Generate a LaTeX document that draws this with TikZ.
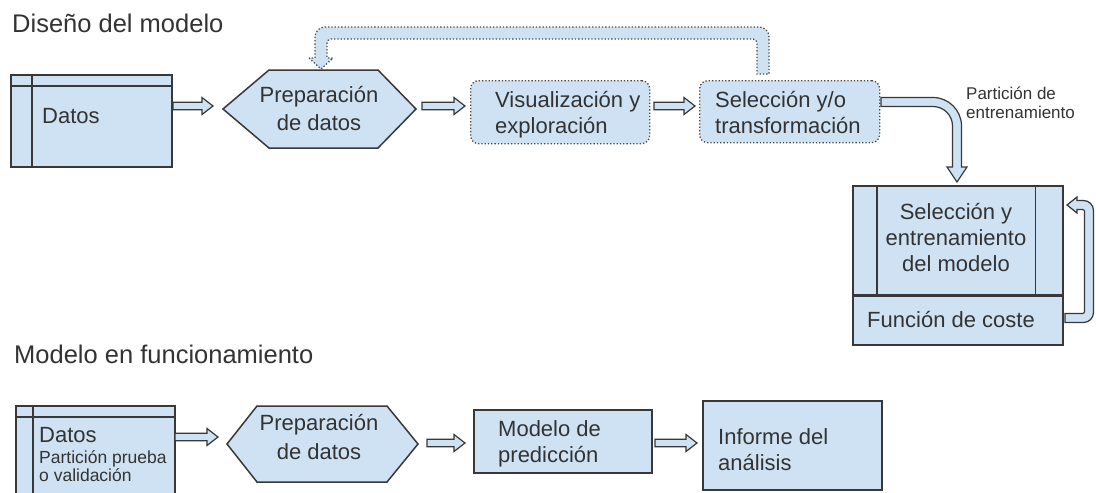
\documentclass[tikz,border=0pt]{standalone}
\usepackage{fontspec}
\setmainfont{Liberation Sans}
\usetikzlibrary{calc}
\definecolor{fillblue}{HTML}{CFE2F3}
\definecolor{edge}{HTML}{383838}
\definecolor{ink}{HTML}{333333}
\definecolor{dotc}{HTML}{4A4A4A}
\newcommand\harr[2]{\draw[barrow] let \p1=(#1), \p2=(#2) in
 (\x1,\y1+3.8pt) -- (\x2-11pt,\y1+3.8pt) -- (\x2-11pt,\y1+8.5pt) -- (\x2,\y1) --
 (\x2-11pt,\y1-8.5pt) -- (\x2-11pt,\y1-3.8pt) -- (\x1,\y1-3.8pt) -- cycle;}
\begin{document}
\begin{tikzpicture}[x=1pt,y=-1pt,
  box/.style={draw=edge, fill=fillblue, line width=1.5pt, inner sep=0pt, anchor=north west},
  innerline/.style={draw=edge, line width=1.5pt},
  hexa/.style={draw=edge, fill=fillblue, line width=1.5pt, line join=miter},
  dotbox/.style={draw=dotc, fill=fillblue, line width=1.3pt, dash pattern=on 1.3pt off 2pt,
    rounded corners=8pt, inner sep=0pt, anchor=north west},
  barrow/.style={draw=edge, fill=fillblue, line width=1.2pt, line join=miter},
  dotarrow/.style={draw=dotc, fill=fillblue, line width=1.3pt, dash pattern=on 1.3pt off 2pt},
  lbl/.style={text=ink, inner sep=0pt, font=\fontsize{22}{26}\selectfont},
  smalllbl/.style={text=ink, inner sep=0pt, font=\fontsize{17}{19.5}\selectfont},
  title/.style={text=ink, inner sep=0pt, font=\fontsize{25.5}{30}\selectfont, anchor=base west},
]
\useasboundingbox[fill=white] (0,0) rectangle (1096,493);

% titles
\node[title] (t1) at (12,32) {Diseño del modelo};
\node[title] (t2) at (14,363) {Modelo en funcionamiento};

% ---------- top row ----------
\node[box, minimum width=161, minimum height=92] (datos) at (10,74) {};
\draw[innerline] ([yshift=-12pt]datos.north west) -- ([yshift=-12pt]datos.north east);
\draw[innerline] ([xshift=22pt]datos.north west) -- ([xshift=22pt]datos.south west);
\node[lbl, anchor=base west] (datosT) at (42,123) {Datos};

\draw[hexa] (223,109) -- (269,70) -- (378,70) -- (416,109) -- (378,148) -- (269,148) -- cycle;
\node[lbl, anchor=base] (prep1) at (319,102)
  {\begin{tabular}[t]{@{}c@{}}Preparación\\[2pt]de datos\end{tabular}};

\node[dotbox, minimum width=179, minimum height=63] (vis) at (470,80) {};
\node[lbl, anchor=base west] (visT) at (495,107)
  {\begin{tabular}[t]{@{}l@{}}Visualización y\\exploración\end{tabular}};

\node[dotbox, minimum width=180, minimum height=62] (sel) at (699,80) {};
\node[lbl, anchor=base west] (selT) at (715,107)
  {\begin{tabular}[t]{@{}l@{}}Selección y/o\\transformación\end{tabular}};

\node[smalllbl, anchor=base west] (part) at (966,99)
  {\begin{tabular}[t]{@{}l@{}}Partición de\\entrenamiento\end{tabular}};

% model box
\node[box, minimum width=210, minimum height=109] (model) at (852,185) {};
\node[box, minimum width=210, minimum height=50] (coste) at (852,294) {};
\draw[innerline] ([xshift=25pt]model.north west) -- ([xshift=25pt]model.south west);
\draw[innerline] ([xshift=-28pt]model.north east) -- ([xshift=-28pt]model.south east);
\draw[draw=edge, line width=2.4pt] (model.south west) -- (model.south east);
\node[lbl, anchor=base] (modelT) at (956,219)
  {\begin{tabular}[t]{@{}c@{}}Selección y\\entrenamiento\\del modelo\end{tabular}};
\node[lbl, anchor=base] (costeT) at (951,327) {Función de coste};

% straight arrows top
\coordinate (a1s) at (173,106); \coordinate (a1e) at (213,106);
\coordinate (a2s) at (422,106); \coordinate (a2e) at (465,106);
\coordinate (a3s) at (654,106); \coordinate (a3e) at (695,106);
\harr{a1s}{a1e}
\harr{a2s}{a2e}
\harr{a3s}{a3e}

% feedback dotted arrow (sel -> prep1)
\draw[dotarrow] (309,58) -- (321,69) -- (333,58) -- (327,58) -- (327,43)
  .. controls (327,40.8) and (328.8,39) .. (331,39) -- (753,39)
  .. controls (755.2,39) and (757,40.8) .. (757,43) -- (757,74) -- (769,74) -- (769,37)
  .. controls (769,31.48) and (764.52,27) .. (759,27) -- (325,27)
  .. controls (319.48,27) and (315,31.48) .. (315,37) -- (315,58) -- cycle;

% curved arrow sel -> model
\draw[barrow] (881,97.5) -- (933,97.5)
  .. controls (948.7,97.5) and (961.5,110.3) .. (961.5,126) -- (961.5,167)
  -- (967,167) -- (957,182) -- (947,167) -- (952.5,167) -- (952.5,126)
  .. controls (952.5,115.2) and (943.8,106.5) .. (933,106.5) -- (881,106.5) -- cycle;

% loop arrow coste -> model
\draw[barrow] (1065,313.5) -- (1082.5,313.5)
  .. controls (1083.6,313.5) and (1084.5,312.6) .. (1084.5,311.5) -- (1084.5,211.5)
  .. controls (1084.5,210.4) and (1083.6,209.5) .. (1082.5,209.5) -- (1077,209.5)
  -- (1077,213) -- (1067,205) -- (1077,197) -- (1077,200.5) -- (1083.5,200.5)
  .. controls (1089,200.5) and (1093.5,205) .. (1093.5,210.5) -- (1093.5,312.5)
  .. controls (1093.5,318) and (1089,322.5) .. (1083.5,322.5) -- (1065,322.5) -- cycle;

% ---------- bottom row ----------
\node[box, minimum width=159, minimum height=110] (datos2) at (15,405) {};
\draw[innerline] ([yshift=-12pt]datos2.north west) -- ([yshift=-12pt]datos2.north east);
\draw[innerline] ([xshift=18pt]datos2.north west) -- ([xshift=18pt]datos2.south west);
\node[lbl, anchor=base west] (d2T) at (39,442) {Datos};
\node[smalllbl, anchor=base west, font=\fontsize{17.5}{18.5}\selectfont] (d2S) at (39,463)
  {\begin{tabular}[t]{@{}l@{}}Partición prueba\\o validación\end{tabular}};

\draw[hexa] (227,444) -- (257,406) -- (387,406) -- (418,444) -- (387,482) -- (257,482) -- cycle;
\node[lbl, anchor=base] (prep2) at (319,430)
  {\begin{tabular}[t]{@{}c@{}}Preparación\\[3pt]de datos\end{tabular}};

\node[box, minimum width=178, minimum height=63] (pred) at (473,409) {};
\node[lbl, anchor=base west] (predT) at (498,436)
  {\begin{tabular}[t]{@{}l@{}}Modelo de\\predicción\end{tabular}};

\node[box, minimum width=179, minimum height=89] (inf) at (702,400) {};
\node[lbl, anchor=base west] (infT) at (718,444)
  {\begin{tabular}[t]{@{}l@{}}Informe del\\análisis\end{tabular}};

\coordinate (b1s) at (175,437); \coordinate (b1e) at (218,437);
\coordinate (b2s) at (427,443); \coordinate (b2e) at (465,443);
\coordinate (b3s) at (655,443); \coordinate (b3e) at (697,443);
\harr{b1s}{b1e}
\harr{b2s}{b2e}
\harr{b3s}{b3e}
\end{tikzpicture}
\end{document}
